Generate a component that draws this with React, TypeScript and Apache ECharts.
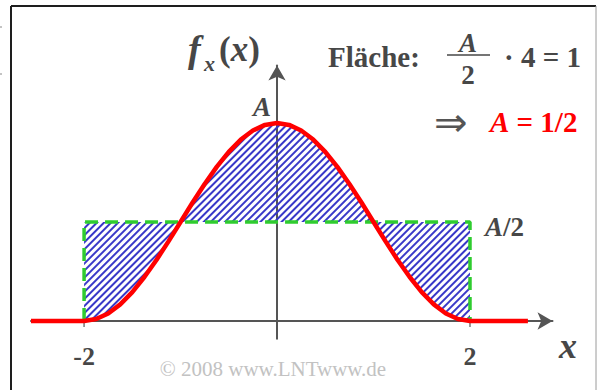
import React, { useEffect, useRef } from "react";
import * as echarts from "echarts";

// Sample abscissae of the density curve (flat tails beyond ±2)
const xValues = [
  -2.55, -2, -1.875, -1.75, -1.625, -1.5, -1.375, -1.25, -1.125, -1, -0.875, -0.75, -0.625,
  -0.5, -0.375, -0.25, -0.125, 0, 0.125, 0.25, 0.375, 0.5, 0.625, 0.75, 0.875, 1, 1.125,
  1.25, 1.375, 1.5, 1.625, 1.75, 1.875, 2, 2.6,
];
// Density values f_x(x) (peak A = 1/2)
const densityValues = [
  0, 0, 0.005, 0.019, 0.042, 0.073, 0.111, 0.154, 0.201, 0.25, 0.299, 0.346, 0.389, 0.427,
  0.458, 0.481, 0.495, 0.5, 0.495, 0.481, 0.458, 0.427, 0.389, 0.346, 0.299, 0.25, 0.201,
  0.154, 0.111, 0.073, 0.042, 0.019, 0.005, 0, 0,
];
// Rectangle of equal area: height A/2 on [-2, 2]
const rectX = [-2, 2];
const rectHeight = 0.25;
const tickValues = [-2, 2];

const SERIF = '"Liberation Serif", "Times New Roman", serif';
const DARK = "#474747";

export default function App() {
  const ref = useRef<HTMLDivElement>(null);

  useEffect(() => {
    if (!ref.current) return;
    const chart = echarts.init(ref.current, undefined, { renderer: "svg" });

    const curve = xValues.map((x, i) => [x, densityValues[i]]);
    // hatched band between curve and rectangle top, on [-2, 2];
    // rows are [y, x] so that the stack is applied to the y value
    const inside = xValues
      .map((x, i) => ({ x, y: densityValues[i] }))
      .filter((p) => p.x >= rectX[0] && p.x <= rectX[1]);
    const bandLower = inside.map((p) => [Math.min(p.y, rectHeight), p.x]);
    const bandSize = inside.map((p) => [Math.abs(p.y - rectHeight), p.x]);
    const rect = [
      [rectX[0], 0],
      [rectX[0], rectHeight],
      [rectX[1], rectHeight],
      [rectX[1], 0],
    ];
    const ticks = tickValues.map((v) => [v, 0]);

    const axisColor = "#555";

    chart.setOption({
      animation: false,
      grid: { left: 31, right: 48.5, top: 65.5, bottom: 51.2 },
      xAxis: {
        type: "value",
        min: -2.55,
        max: 2.855,
        splitLine: { show: false },
        axisLine: {
          onZero: true,
          lineStyle: { color: axisColor, width: 2 },
          symbol: ["none", "arrow"],
          symbolSize: [13, 15],
        },
        axisTick: { show: false },
        axisLabel: {
          customValues: tickValues,
          margin: 5,
          color: DARK,
          fontFamily: SERIF,
          fontWeight: "bold",
          fontSize: 26,
          formatter: (v: number) => String(v),
        },
      },
      yAxis: {
        type: "value",
        min: -0.045,
        max: 0.645,
        splitLine: { show: false },
        axisTick: { show: false },
        axisLabel: { show: false },
        axisLine: {
          onZero: true,
          lineStyle: { color: axisColor, width: 2 },
          symbol: ["none", "arrow"],
          symbolSize: [13, 15],
        },
      },
      series: [
        {
          type: "line",
          data: bandLower,
          encode: { x: 1, y: 0 },
          stack: "band",
          symbol: "none",
          lineStyle: { opacity: 0 },
          silent: true,
        },
        {
          type: "line",
          data: bandSize,
          encode: { x: 1, y: 0 },
          stack: "band",
          symbol: "none",
          lineStyle: { opacity: 0 },
          itemStyle: {
            color: "#3b3bcc",
            decal: {
              symbol: "rect",
              symbolSize: 1,
              color: "#3838c8",
              backgroundColor: "rgba(255,255,255,0)",
              dashArrayX: [1, 0],
              dashArrayY: [1.3, 2.2],
              rotation: -Math.PI / 4,
            },
          },
          areaStyle: { color: "rgba(255,255,255,0)", opacity: 1 },
          silent: true,
        },
        {
          type: "line",
          data: rect,
          symbol: "none",
          lineStyle: { color: "#2fcc2f", width: 3.5, type: [13, 7] },
          silent: true,
        },
        {
          // small tick marks below the x axis at ±2
          type: "scatter",
          data: ticks,
          symbol: "rect",
          symbolSize: [1.5, 6],
          symbolOffset: [0, 3],
          itemStyle: { color: axisColor },
          silent: true,
        },
        {
          type: "line",
          data: curve,
          symbol: "none",
          lineStyle: { color: "#ff0000", width: 4.5 },
          silent: true,
        },
      ],
      graphic: [
        // frame
        { type: "line", shape: { x1: 11, y1: 6, x2: 596, y2: 6 }, style: { stroke: "#1e1e1e", lineWidth: 2 } },
        { type: "line", shape: { x1: 11, y1: 6, x2: 11, y2: 392 }, style: { stroke: "#1e1e1e", lineWidth: 2 } },
        { type: "line", shape: { x1: 596, y1: 6, x2: 596, y2: 392 }, style: { stroke: "#9a9a9a", lineWidth: 1 } },
        { type: "line", shape: { x1: 0, y1: 27, x2: 2, y2: 27 }, style: { stroke: "#888", lineWidth: 1 } },
        { type: "line", shape: { x1: 0, y1: 74, x2: 2, y2: 74 }, style: { stroke: "#888", lineWidth: 1 } },
        // f_x(x)
        {
          type: "text",
          x: 188,
          y: 49,
          style: { text: "f", font: `italic bold 38px ${SERIF}`, fill: DARK, verticalAlign: "middle" },
        },
        {
          type: "text",
          x: 204,
          y: 63,
          style: { text: "x", font: `italic bold 22px ${SERIF}`, fill: DARK, verticalAlign: "middle" },
        },
        {
          type: "text",
          x: 219,
          y: 49,
          style: {
            text: "{p|(}{i|x}{p|)}",
            verticalAlign: "middle",
            rich: {
              p: { font: `bold 35px ${SERIF}`, fill: DARK },
              i: { font: `italic bold 35px ${SERIF}`, fill: DARK },
            },
          },
        },
        // A at the peak
        {
          type: "text",
          x: 262,
          y: 107,
          style: { text: "A", font: `italic bold 27px ${SERIF}`, fill: DARK, align: "center", verticalAlign: "middle" },
        },
        // A/2 at the rectangle
        {
          type: "text",
          x: 485,
          y: 227,
          style: {
            text: "{i|A}{p|/2}",
            verticalAlign: "middle",
            rich: {
              p: { font: `bold 27px ${SERIF}`, fill: DARK },
              i: { font: `italic bold 27px ${SERIF}`, fill: DARK },
            },
          },
        },
        // x axis name
        {
          type: "text",
          x: 568,
          y: 346,
          style: { text: "x", font: `italic bold 36px ${SERIF}`, fill: DARK, align: "center", verticalAlign: "middle" },
        },
        // Fläche: A/2 · 4 = 1
        {
          type: "text",
          x: 328,
          y: 57,
          style: { text: "Fläche:", font: `bold 29px ${SERIF}`, fill: DARK, verticalAlign: "middle" },
        },
        {
          type: "text",
          x: 468,
          y: 43,
          style: { text: "A", font: `italic bold 27px ${SERIF}`, fill: DARK, align: "center", verticalAlign: "middle" },
        },
        { type: "line", shape: { x1: 447, y1: 55, x2: 490, y2: 55 }, style: { stroke: DARK, lineWidth: 1.5 } },
        {
          type: "text",
          x: 468,
          y: 75,
          style: { text: "2", font: `bold 27px ${SERIF}`, fill: DARK, align: "center", verticalAlign: "middle" },
        },
        {
          type: "text",
          x: 504,
          y: 57,
          style: { text: "· 4 = 1", font: `bold 29px ${SERIF}`, fill: DARK, verticalAlign: "middle" },
        },
        // ⇒ A = 1/2
        {
          type: "text",
          x: 434,
          y: 122,
          style: { text: "⇒", font: `40px "DejaVu Sans", ${SERIF}`, fill: "#555", verticalAlign: "middle" },
        },
        {
          type: "text",
          x: 490,
          y: 122,
          style: {
            text: "{i|A}{p| = 1/2}",
            verticalAlign: "middle",
            rich: {
              p: { font: `bold 29px ${SERIF}`, fill: "#ff0000" },
              i: { font: `italic bold 29px ${SERIF}`, fill: "#ff0000" },
            },
          },
        },
        // copyright
        {
          type: "text",
          x: 273,
          y: 369,
          style: {
            text: "© 2008 www.LNTwww.de",
            font: `21px ${SERIF}`,
            fill: "#c2c2c2",
            align: "center",
            verticalAlign: "middle",
          },
        },
      ],
    });

    return () => chart.dispose();
  }, []);

  return <div ref={ref} style={{ width: 601, height: 390, position: "absolute", left: 0, top: 0 }} />;
}
